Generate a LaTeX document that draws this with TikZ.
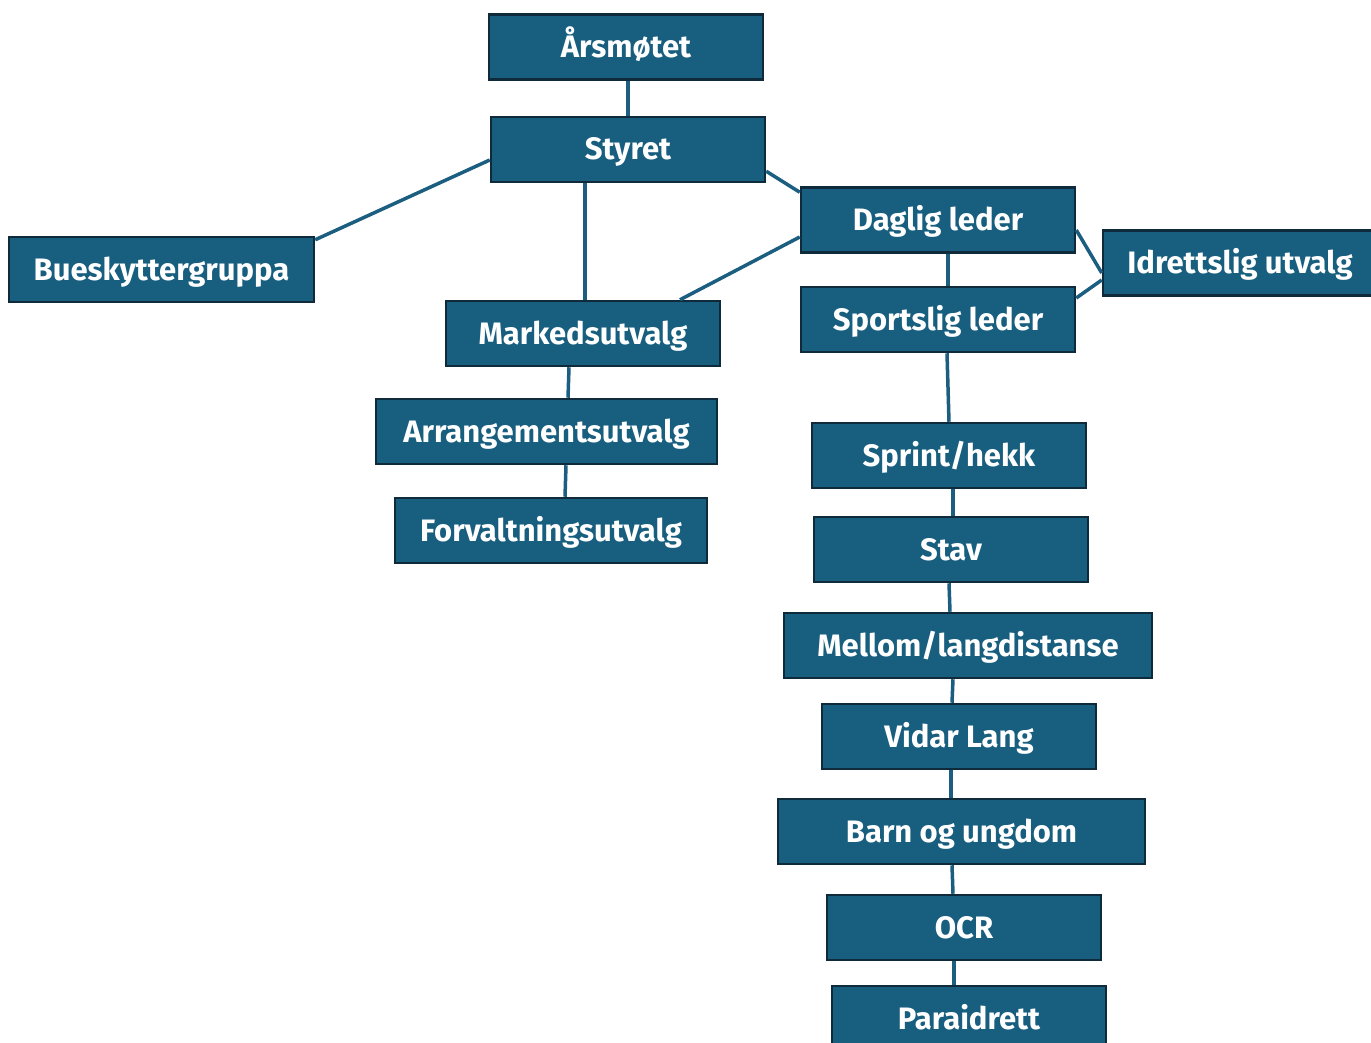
\documentclass[tikz,border=0pt]{standalone}
\usepackage{fontspec}
\setmainfont{Fira Sans}
\definecolor{boxfill}{HTML}{175E7F}
\definecolor{boxline}{HTML}{0F2B3B}
\definecolor{conn}{HTML}{1B5E80}
\begin{document}
\begin{tikzpicture}[x=1pt,y=-1pt,
  box/.style={draw=boxline, line width=2.5pt, fill=boxfill, text=white,
    font=\fontsize{31}{36}\selectfont\bfseries, minimum height=65pt, inner sep=0pt,
    text height=21pt, text depth=0pt, minimum width=274pt},
  link/.style={draw=conn, line width=3.5pt}]
\useasboundingbox (0,0) rectangle (1371,1043);
\node[box] (ars) at (626,47) {Årsmøtet};
\node[box] (sty) at (628,149.5) {Styret};
\node[box, minimum width=305pt] (bue) at (161.5,269.5) {Bueskyttergruppa};
\node[box] (dag) at (938,220) {Daglig leder};
\node[box] (idr) at (1240,263) {Idrettslig utvalg};
\node[box] (spo) at (938,319.5) {Sportslig leder};
\node[box] (mar) at (583,333.5) {Markedsutvalg};
\node[box, minimum width=341pt] (arr) at (546.5,431.5) {Arrangementsutvalg};
\node[box, minimum width=312pt] (for) at (551,530.5) {Forvaltningsutvalg};
\node[box] (spr) at (949,455.5) {Sprint/hekk};
\node[box] (stav) at (951,549.5) {Stav};
\node[box, minimum width=368pt] (mel) at (968,645.5) {Mellom/langdistanse};
\node[box] (vid) at (959,736.5) {Vidar Lang};
\node[box, minimum width=367pt] (barn) at (961.5,831.5) {Barn og ungdom};
\node[box] (ocr) at (964,927.5) {OCR};
\node[box] (para) at (969,1018.5) {Paraidrett};
\path[link] ([xshift=2pt]ars.south) -- (sty.north);
\path[link] ([yshift=-10.5pt]sty.west) -- ([yshift=-4pt]bue.north east);
\path[link] ([xshift=-43pt]sty.south) -- ([xshift=2pt]mar.north);
\path[link] ([yshift=12pt]sty.south east) -- ([yshift=-6pt]dag.north west);
\path[link] ([yshift=-17pt]dag.west) -- ([xshift=97pt]mar.north);
\path[link] ([yshift=-10pt]dag.east) -- ([yshift=-10pt]idr.west);
\path[link] ([yshift=21.5pt]spo.east) -- ([yshift=-17pt]idr.west);
\path[link] ([xshift=10pt]dag.south) -- ([xshift=10pt]spo.north);
\path[link] ([xshift=9pt]spo.south) -- (spr.north);
\path[link] ([xshift=-14pt]mar.south) -- ([xshift=21.5pt]arr.north);
\path[link] ([xshift=19.5pt]arr.south) -- ([xshift=14pt]for.north);
\path[link] ([xshift=4pt]spr.south) -- ([xshift=2pt]stav.north);
\path[link] ([xshift=-2pt]stav.south) -- ([xshift=-18pt]mel.north);
\path[link] ([xshift=-15pt]mel.south) -- ([xshift=-7pt]vid.north);
\path[link] ([xshift=-8pt]vid.south) -- ([xshift=-10.5pt]barn.north);
\path[link] ([xshift=-9.5pt]barn.south) -- ([xshift=-11pt]ocr.north);
\path[link] ([xshift=-10pt]ocr.south) -- ([xshift=-15pt]para.north);
\end{tikzpicture}
\end{document}
